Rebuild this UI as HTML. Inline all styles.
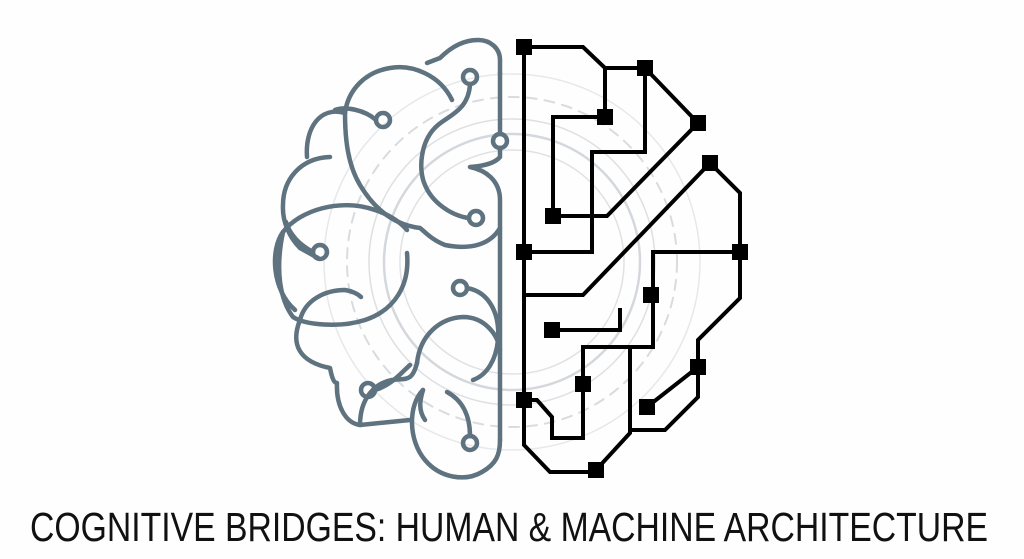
<!DOCTYPE html>
<html><head><meta charset="utf-8"><style>html,body{margin:0;padding:0;background:#fff}svg{display:block}</style></head>
<body>
<svg width="1024" height="559" viewBox="0 0 1024 559" xmlns="http://www.w3.org/2000/svg">
<rect width="1024" height="559" fill="#fefefe"/>
<g fill="none" stroke-linecap="round">
 <circle cx="512" cy="262" r="188" stroke="#e6e8ea" stroke-width="1.5"/>
 <circle cx="512" cy="262" r="165" stroke="#d8dcdf" stroke-width="2" stroke-dasharray="10 8"/>
 <circle cx="512" cy="262" r="143" stroke="#dde0e3" stroke-width="1.5"/>
 <circle cx="512" cy="262" r="128" stroke="#d4d8dc" stroke-width="2.5"/>
 <circle cx="512" cy="262" r="112" stroke="#dfe2e4" stroke-width="1.5"/>
</g>
<g fill="none" stroke="#5e727f" stroke-width="4.5" stroke-linecap="round" stroke-linejoin="round">
 <path d="M500 73 V60 C500 48 490 40 478 40 C462 40 450 48 440 58 L427 63"/>
 <path d="M452 100 C440 75 412 64 390 68 C365 72 348 90 345 113"/>
 <path d="M345 113 C320 106 305 128 307 157"/>
 <path d="M330 157 C300 158 283 180 283 205 C282 222 290 238 300 248 L318 258"/>
 <path d="M283 232 C270 250 272 290 295 310"/>
 <path d="M300 320 C290 345 300 362 330 368 C332 378 334 383 337 383 C336 405 345 423 360 425 L410 420"/>
 <path d="M423 390 C408 405 408 440 425 460 C440 478 465 482 482 472 C496 464 500 455 500 440"/>
 <path d="M500 73 V133 M500 148 V157 C495 163 485 166 470 167 C485 170 500 180 500 200 V440"/>
 <circle cx="500" cy="141" r="7"/>
 <path d="M345 113 C345 140 348 165 360 185 C375 210 395 225 420 228 C425 232 432 240 445 245 C470 250 490 245 500 228"/>
 <circle cx="470" cy="77" r="7"/>
 <path d="M470 85 C468 110 450 115 438 125 C420 140 418 170 425 185 C432 202 450 215 468 218"/>
 <circle cx="476" cy="218" r="7"/>
 <circle cx="383" cy="120" r="7"/>
 <path d="M376 120 C365 110 345 106 335 110"/>
 <path d="M283 232 C300 210 340 198 375 210 C390 215 400 222 407 230"/>
 <path d="M407 253 C410 285 395 310 365 320 C340 328 305 325 293 317 C280 300 275 270 283 232"/>
 <circle cx="320" cy="252" r="7"/>
 <path d="M313 252 C300 245 290 235 286 222"/>
 <path d="M300 320 C305 300 325 290 345 290 C352 291 358 294 361 297"/>
 <circle cx="460" cy="288" r="7"/>
 <path d="M467 288 C490 292 500 315 498 340 C496 360 487 375 473 380"/>
 <path d="M417 363 C420 335 440 318 463 317 C485 317 498 335 500 350"/>
 <path d="M360 425 C360 398 375 383 392 380 C405 378 412 383 417 363"/>
 <circle cx="368" cy="390" r="7"/>
 <path d="M375 390 C392 385 402 372 410 365"/>
 <path d="M423 390 C420 400 418 410 425 420"/>
 <path d="M447 392 C462 400 470 415 470 436"/>
 <circle cx="470" cy="443" r="7"/>
</g>
<g fill="none" stroke="#000" stroke-width="4" stroke-linejoin="miter">
 <path d="M524 47 V445 L550 472 H596"/>
 <path d="M524 47 H583 L605 68 H645"/>
 <path d="M605 68 V117 H553 V216 H607 L698 123"/>
 <path d="M645 68 L698 123"/>
 <path d="M645 68 V152 H592 V252 H524"/>
 <path d="M524 295 H583 L710 163 L740 193 V298 L698 340 V397 L665 430 H630"/>
 <path d="M740 252 H653 V347 H583 V438 H552 V417 L537 400 H524"/>
 <path d="M630 347 V433 L596 470"/>
 <path d="M552 330 H620 V308"/>
 <path d="M647 407 L698 367"/>
</g>
<g fill="#000">
 <rect x="516" y="39" width="16" height="16"/>
 <rect x="637" y="60" width="16" height="16"/>
 <rect x="597" y="109" width="16" height="16"/>
 <rect x="690" y="115" width="16" height="16"/>
 <rect x="702" y="155" width="16" height="16"/>
 <rect x="545" y="208" width="16" height="16"/>
 <rect x="516" y="244" width="16" height="16"/>
 <rect x="732" y="244" width="16" height="16"/>
 <rect x="643" y="287" width="16" height="16"/>
 <rect x="544" y="322" width="16" height="16"/>
 <rect x="575" y="376" width="16" height="16"/>
 <rect x="690" y="359" width="16" height="16"/>
 <rect x="639" y="399" width="16" height="16"/>
 <rect x="516" y="392" width="16" height="16"/>
 <rect x="588" y="462" width="16" height="16"/>
</g>
<text x="30" y="541" font-family="'Liberation Sans Narrow','Liberation Sans',sans-serif" font-size="41" fill="#111" textLength="958" lengthAdjust="spacingAndGlyphs">COGNITIVE BRIDGES: HUMAN &amp; MACHINE ARCHITECTURE</text>
</svg>
</body></html>
